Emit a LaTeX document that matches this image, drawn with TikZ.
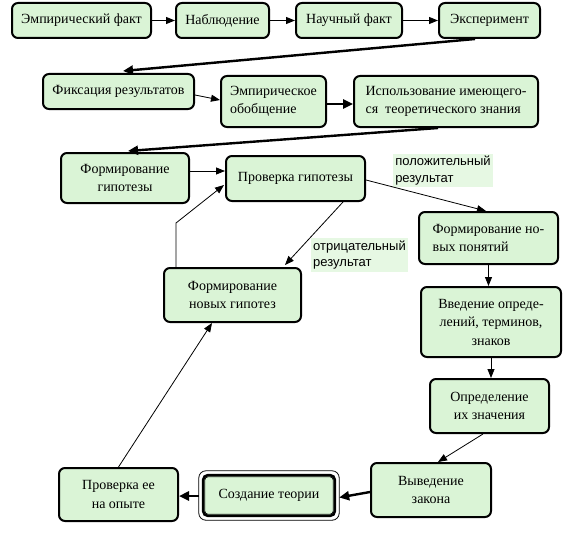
\documentclass[tikz,border=0pt]{standalone}
\usepackage{fontspec}
\setmainfont{Liberation Serif}
\setsansfont{Liberation Sans}
\usetikzlibrary{calc,arrows.meta}
\definecolor{boxgreen}{RGB}{218,244,214}
\definecolor{notegreen}{RGB}{230,248,227}
\tikzset{
  box/.style={
    rectangle,
    rounded corners=6pt,
    draw=black,
    line width=2pt,
    fill=boxgreen,
    inner sep=2pt,
    align=center,
    font=\fontsize{14}{18.5}\selectfont
  },
  box-left/.style={box, align=left},
  note/.style={rectangle, fill=notegreen, inner sep=2pt, align=left,
    font=\sffamily\fontsize{13}{16.5}\selectfont},
  size/.style 2 args={minimum width=#1, minimum height=#2},
  link/.style={line width=0.8pt, -{Triangle[length=9pt,width=7pt]}},
  link-thick/.style={line width=2.4pt, -{Triangle[length=10pt,width=9pt]}},
  frame-thin/.style={line width=0.8pt, rounded corners=7pt}
}

\begin{document}
\begin{tikzpicture}[x=1pt, y=-1pt]
  \fill[white] (0,0) rectangle (573,543);
  \useasboundingbox (0,0) rectangle (573,543);
  % First row
  \node[box, size={139}{35}] (emp) at (81.5,20.5) {Эмпирический факт};
  \node[box, size={93}{35}] (nabl) at (222.5,20.5) {Наблюдение};
  \node[box, size={106}{35}] (nauch) at (349,20.5) {Научный факт};
  \node[box, size={101}{35}] (eksp) at (489.5,20.5) {Эксперимент};
  % Second row
  \node[box, size={151}{35}] (fiks) at (118.5,91.5) {Фиксация результатов};
  \node[box-left, size={105}{51}] (obob) at (273.5,101.5) {Эмпирическое\\обобщение};
  \node[box-left, size={184}{51}] (ispol) at (446,101.5) {Использование имеющего-\\ся\ \ теоретического знания};
  % Hypotheses
  \node[box, size={128}{50}] (formgip) at (125,178) {Формирование\\гипотезы};
  \node[box-left, size={139}{45}] (prov) at (295.5,178.5) {Проверка гипотезы};
  \node[box, size={137}{54}] (novgip) at (232.5,295) {Формирование\\новых гипотез};
  \node[note, size={100}{33}] (pos) at (443,170.5) {положительный\\результат};
  \node[note, size={97}{34}] (neg) at (359.5,255) {отрицательный\\результат};
  % Right column
  \node[box-left, size={139}{52}] (ponyat) at (488.5,238) {Формирование но-\\вых понятий};
  \node[box, size={140}{70}] (vved) at (491,322) {Введение опреде-\\лений, терминов,\\знаков};
  \node[box, size={119}{54}] (opred) at (489.5,406) {Определение\\их значения};
  % Bottom row
  \node[box, size={120}{54}] (vyved) at (431,490) {Выведение\\закона};
  \node[box, line width=2.4pt, rounded corners=5pt, size={132}{41}] (sozd) at (269,495.5) {Создание теории};
  \draw[frame-thin] ($(sozd.south west)+(-3,3)$) rectangle ($(sozd.north east)+(3,-3)$);
  \draw[frame-thin, rounded corners=3pt] ($(sozd.south west)+(3,-3)$) rectangle ($(sozd.north east)+(-3,3)$);
  \node[box, size={119}{53}] (opyt) at (118.5,494.5) {Проверка ее\\на опыте};

  % Connectors
  \draw[link] (emp) -- (nabl);
  \draw[link] (nabl) -- (nauch);
  \draw[link] (nauch) -- (eksp);
  \draw[link-thick] ($(eksp.south)+(-14.5,0)$) -- ($(fiks.north)+(4.5,-2)$);
  \draw[link] ($(fiks.east)+(0,3.5)$) -- ($(obob.west)+(0,-1.5)$);
  \draw[link-thick] ($(obob.east)+(0,2.5)$) -- ($(ispol.west)+(0,2.5)$);
  \draw[link-thick] ($(ispol.south)+(-8,0)$) -- ($(formgip.north)+(3,-1)$);
  \draw[link] ($(formgip.east)+(0,-7)$) -- ($(prov.west)+(0,-7.5)$);
  \draw[link] ($(prov.east)+(0,1.5)$) -- ($(ponyat.north)+(-2.5,0)$);
  \draw[link] ($(prov.south)+(47.5,0)$) -- ($(novgip.north)+(52.5,-2)$);
  \coordinate (bend) at ($(novgip.north)+(-56.5,-44)$);
  \draw[link] ($(novgip.north)+(-56.5,0)$) -- (bend) -- ($(prov.west)+(-1,6.5)$);
  \draw[link] (ponyat.south) -- (ponyat.south |- vved.north);
  \draw[link] (vved.south) -- (vved.south |- opred.north);
  \draw[link] ($(opred.south)+(-6.5,0)$) -- ($(vyved.north)+(7,0)$);
  \draw[link-thick] ($(vyved.west)+(0,2)$) -- ($(sozd.east)+(3,2)$);
  \draw[link-thick] ($(sozd.west)+(-3,0.5)$) -- ($(opyt.east)+(0,1.5)$);
  \draw[link] (opyt.north) -- ($(novgip.south)+(-20.5,0)$);
\end{tikzpicture}
\end{document}
